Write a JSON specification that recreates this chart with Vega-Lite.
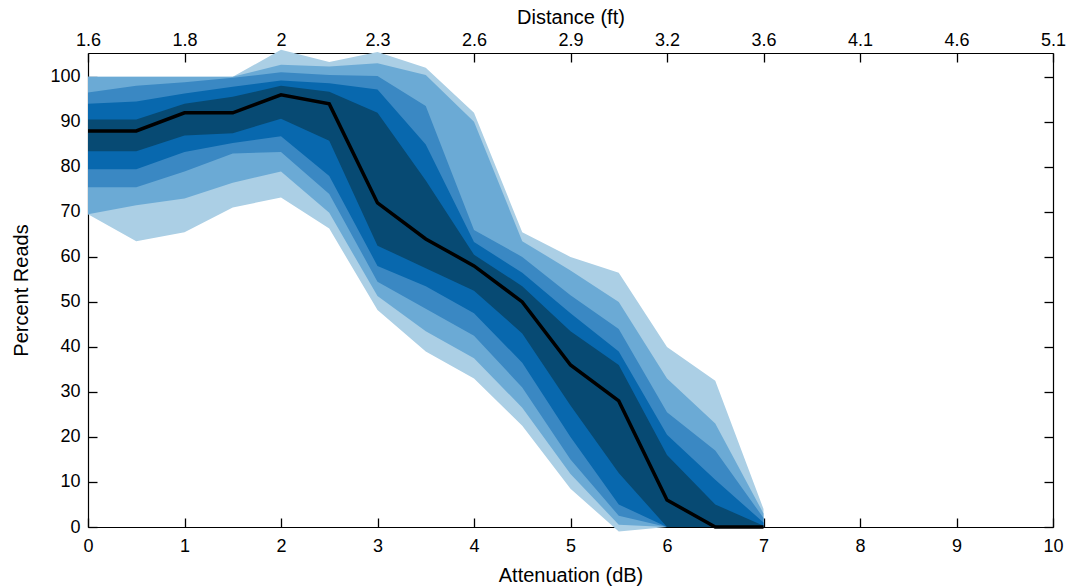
{
  "$schema": "https://vega.github.io/schema/vega-lite/v6.json",
  "width": 965,
  "height": 474,
  "autosize": "none",
  "padding": {"left": 88, "top": 53, "right": 20, "bottom": 60},
  "background": "white",
  "config": {
    "view": {"stroke": null},
    "font": "Liberation Sans",
    "axis": {
      "grid": false,
      "domainColor": "#000000",
      "domainWidth": 1.2,
      "tickColor": "#000000",
      "tickWidth": 1.3,
      "tickSize": -9,
      "labelColor": "#000000",
      "labelFontSize": 18,
      "labelFont": "Liberation Sans",
      "titleFont": "Liberation Sans",
      "titleFontSize": 20,
      "titleFontWeight": "normal",
      "titleColor": "#000000",
      "labelFlush": false,
      "labelOverlap": false
    }
  },
  "datasets": {
    "bands": [
      {"dB": 0, "band": "b1", "lo": 69.5, "hi": 100}, {"dB": 0.5, "band": "b1", "lo": 63.5, "hi": 100}, {"dB": 1, "band": "b1", "lo": 65.5, "hi": 100}, {"dB": 1.5, "band": "b1", "lo": 71, "hi": 100}, {"dB": 2, "band": "b1", "lo": 73.2, "hi": 106}, {"dB": 2.5, "band": "b1", "lo": 66.3, "hi": 103.3}, {"dB": 3, "band": "b1", "lo": 48.2, "hi": 105.5}, {"dB": 3.5, "band": "b1", "lo": 39, "hi": 102}, {"dB": 4, "band": "b1", "lo": 33, "hi": 92}, {"dB": 4.5, "band": "b1", "lo": 22.5, "hi": 65.5}, {"dB": 5, "band": "b1", "lo": 8.5, "hi": 60}, {"dB": 5.5, "band": "b1", "lo": -1, "hi": 56.5}, {"dB": 6, "band": "b1", "lo": 0, "hi": 40}, {"dB": 6.5, "band": "b1", "lo": 0, "hi": 32.5}, {"dB": 7, "band": "b1", "lo": 0, "hi": 4},
      {"dB": 0, "band": "b2", "lo": 69.5, "hi": 100}, {"dB": 0.5, "band": "b2", "lo": 71.5, "hi": 100}, {"dB": 1, "band": "b2", "lo": 73, "hi": 100}, {"dB": 1.5, "band": "b2", "lo": 76.5, "hi": 100}, {"dB": 2, "band": "b2", "lo": 79, "hi": 102.7}, {"dB": 2.5, "band": "b2", "lo": 69.8, "hi": 102.3}, {"dB": 3, "band": "b2", "lo": 51.3, "hi": 103}, {"dB": 3.5, "band": "b2", "lo": 43.5, "hi": 100.4}, {"dB": 4, "band": "b2", "lo": 37.5, "hi": 90}, {"dB": 4.5, "band": "b2", "lo": 26.5, "hi": 63.5}, {"dB": 5, "band": "b2", "lo": 11.8, "hi": 57}, {"dB": 5.5, "band": "b2", "lo": 0.5, "hi": 50}, {"dB": 6, "band": "b2", "lo": 0, "hi": 33}, {"dB": 6.5, "band": "b2", "lo": 0, "hi": 23}, {"dB": 7, "band": "b2", "lo": 0, "hi": 3},
      {"dB": 0, "band": "b3", "lo": 75.5, "hi": 96.5}, {"dB": 0.5, "band": "b3", "lo": 75.5, "hi": 98}, {"dB": 1, "band": "b3", "lo": 79, "hi": 98.8}, {"dB": 1.5, "band": "b3", "lo": 83, "hi": 99.8}, {"dB": 2, "band": "b3", "lo": 83.3, "hi": 101}, {"dB": 2.5, "band": "b3", "lo": 74, "hi": 100.4}, {"dB": 3, "band": "b3", "lo": 54.5, "hi": 100.2}, {"dB": 3.5, "band": "b3", "lo": 48.5, "hi": 93.5}, {"dB": 4, "band": "b3", "lo": 42.5, "hi": 66}, {"dB": 4.5, "band": "b3", "lo": 31, "hi": 60}, {"dB": 5, "band": "b3", "lo": 15, "hi": 51.5}, {"dB": 5.5, "band": "b3", "lo": 2.5, "hi": 44}, {"dB": 6, "band": "b3", "lo": 0, "hi": 25.5}, {"dB": 6.5, "band": "b3", "lo": 0, "hi": 17}, {"dB": 7, "band": "b3", "lo": 0, "hi": 2},
      {"dB": 0, "band": "b4", "lo": 79.5, "hi": 94}, {"dB": 0.5, "band": "b4", "lo": 79.5, "hi": 94.5}, {"dB": 1, "band": "b4", "lo": 83.3, "hi": 96.3}, {"dB": 1.5, "band": "b4", "lo": 85.3, "hi": 97.8}, {"dB": 2, "band": "b4", "lo": 86.8, "hi": 99.2}, {"dB": 2.5, "band": "b4", "lo": 78, "hi": 98.6}, {"dB": 3, "band": "b4", "lo": 58, "hi": 97.2}, {"dB": 3.5, "band": "b4", "lo": 53.5, "hi": 85}, {"dB": 4, "band": "b4", "lo": 47.5, "hi": 63.3}, {"dB": 4.5, "band": "b4", "lo": 36.5, "hi": 56.5}, {"dB": 5, "band": "b4", "lo": 20, "hi": 47.5}, {"dB": 5.5, "band": "b4", "lo": 5, "hi": 39}, {"dB": 6, "band": "b4", "lo": 0, "hi": 20.5}, {"dB": 6.5, "band": "b4", "lo": 0, "hi": 10.5}, {"dB": 7, "band": "b4", "lo": 0, "hi": 1},
      {"dB": 0, "band": "b5", "lo": 83.5, "hi": 90.5}, {"dB": 0.5, "band": "b5", "lo": 83.5, "hi": 90.5}, {"dB": 1, "band": "b5", "lo": 87, "hi": 94}, {"dB": 1.5, "band": "b5", "lo": 87.5, "hi": 95.6}, {"dB": 2, "band": "b5", "lo": 90.7, "hi": 98}, {"dB": 2.5, "band": "b5", "lo": 85.8, "hi": 96.7}, {"dB": 3, "band": "b5", "lo": 62.5, "hi": 92}, {"dB": 3.5, "band": "b5", "lo": 57.5, "hi": 77}, {"dB": 4, "band": "b5", "lo": 52.5, "hi": 60.5}, {"dB": 4.5, "band": "b5", "lo": 43, "hi": 53.5}, {"dB": 5, "band": "b5", "lo": 27, "hi": 43.5}, {"dB": 5.5, "band": "b5", "lo": 12, "hi": 36}, {"dB": 6, "band": "b5", "lo": 0, "hi": 16}, {"dB": 6.5, "band": "b5", "lo": 0, "hi": 5}, {"dB": 7, "band": "b5", "lo": 0, "hi": 0.3}
    ],
    "median": [
      {"dB": 0, "pct": 88}, {"dB": 0.5, "pct": 88}, {"dB": 1, "pct": 92}, {"dB": 1.5, "pct": 92}, {"dB": 2, "pct": 96}, {"dB": 2.5, "pct": 94}, {"dB": 3, "pct": 72}, {"dB": 3.5, "pct": 64}, {"dB": 4, "pct": 58}, {"dB": 4.5, "pct": 50}, {"dB": 5, "pct": 36}, {"dB": 5.5, "pct": 28}, {"dB": 6, "pct": 6}, {"dB": 6.5, "pct": 0}, {"dB": 7, "pct": 0}
    ]
  },
  "layer": [
    {
      "data": {"name": "bands"},
      "transform": [{"filter": "datum.band === 'b1'"}],
      "mark": {"type": "area", "color": "#abcfe5", "opacity": 1},
      "encoding": {
        "x": {"field": "dB", "type": "quantitative", "scale": {"domain": [0, 10], "nice": false},
          "axis": {"orient": "bottom", "title": "Attenuation (dB)", "values": [0,1,2,3,4,5,6,7,8,9,10], "labelPadding": 19, "titlePadding": 10}},
        "y": {"field": "lo", "type": "quantitative", "scale": {"domain": [0, 105.3], "nice": false, "zero": false},
          "axis": {"orient": "left", "title": "Percent Reads", "values": [0,10,20,30,40,50,60,70,80,90,100], "labelPadding": 17, "titlePadding": 18}},
        "y2": {"field": "hi"}
      }
    },
    {
      "data": {"name": "bands"},
      "transform": [{"filter": "datum.band === 'b2'"}],
      "mark": {"type": "area", "color": "#6baad5", "opacity": 1},
      "encoding": {
        "x": {"field": "dB", "type": "quantitative", "axis": null},
        "y": {"field": "lo", "type": "quantitative", "axis": null},
        "y2": {"field": "hi"}
      }
    },
    {
      "data": {"name": "bands"},
      "transform": [{"filter": "datum.band === 'b3'"}],
      "mark": {"type": "area", "color": "#3a88c3", "opacity": 1},
      "encoding": {
        "x": {"field": "dB", "type": "quantitative", "axis": null},
        "y": {"field": "lo", "type": "quantitative", "axis": null},
        "y2": {"field": "hi"}
      }
    },
    {
      "data": {"name": "bands"},
      "transform": [{"filter": "datum.band === 'b4'"}],
      "mark": {"type": "area", "color": "#0868ae", "opacity": 1},
      "encoding": {
        "x": {"field": "dB", "type": "quantitative", "axis": null},
        "y": {"field": "lo", "type": "quantitative", "axis": null},
        "y2": {"field": "hi"}
      }
    },
    {
      "data": {"name": "bands"},
      "transform": [{"filter": "datum.band === 'b5'"}],
      "mark": {"type": "area", "color": "#074a73", "opacity": 1},
      "encoding": {
        "x": {"field": "dB", "type": "quantitative", "axis": null},
        "y": {"field": "lo", "type": "quantitative", "axis": null},
        "y2": {"field": "hi"}
      }
    },
    {
      "data": {"name": "median"},
      "mark": {"type": "line", "color": "#000000", "strokeWidth": 3.5},
      "encoding": {
        "x": {"field": "dB", "type": "quantitative",
          "axis": {"orient": "top", "title": "Distance (ft)", "values": [0,1,2,3,4,5,6,7,8,9,10], "labelPadding": 13, "titlePadding": 4,
            "labelExpr": "['1.6','1.8','2','2.3','2.6','2.9','3.2','3.6','4.1','4.6','5.1'][datum.value]"}},
        "y": {"field": "pct", "type": "quantitative",
          "axis": {"orient": "right", "title": null, "labels": false, "values": [0,10,20,30,40,50,60,70,80,90,100]}}
      }
    }
  ],
  "resolve": {"scale": {"x": "shared", "y": "shared"}, "axis": {"x": "independent", "y": "independent"}}
}
